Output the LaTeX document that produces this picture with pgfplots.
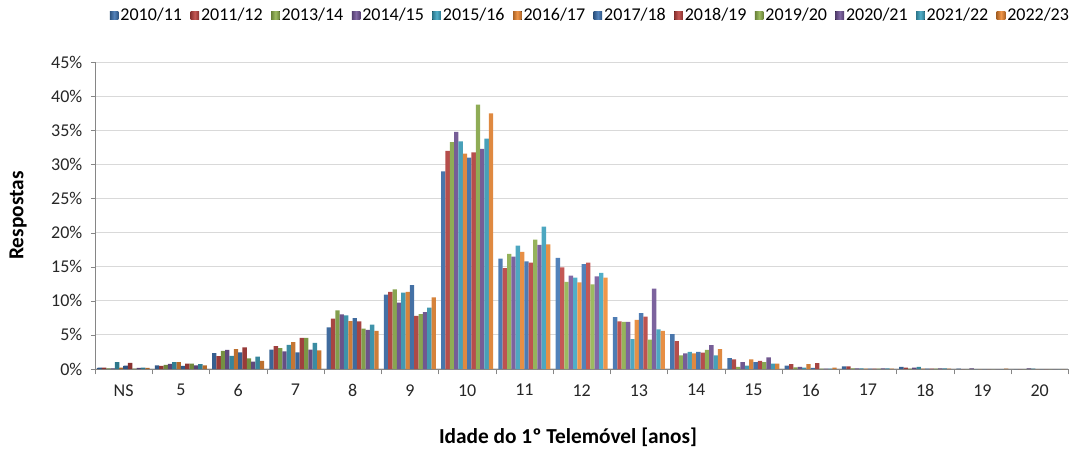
\documentclass[border=0pt]{standalone}
\usepackage{fontspec}
\setmainfont{Carlito}
\usepackage{pgfplots}
\usepackage{pgfplotstable}
\pgfplotsset{compat=1.18}

\definecolor{cblue}{HTML}{3F74B3}
\definecolor{cred}{HTML}{BE4542}
\definecolor{cgreen}{HTML}{91B34E}
\definecolor{cpurple}{HTML}{74579A}
\definecolor{ccyan}{HTML}{3EA5C2}
\definecolor{corange}{HTML}{EE8A35}
\definecolor{gridgray}{HTML}{D9D9D9}
\definecolor{axisgray}{HTML}{868686}

% percent of answers per age at first phone, one column per school year
\pgfplotstableread{
x  s1    s2    s3    s4    s5    s6    s7    s8    s9    s10   s11   s12
0  0.2   0.2   0.1   0.1   1.0   0.2   0.5   0.9   0.05  0.15  0.2   0.15
1  0.55  0.45  0.6   0.75  1.0   1.0   0.45  0.8   0.8   0.55  0.7   0.55
2  2.33  1.89  2.67  2.82  1.94  2.91  2.43  3.16  1.55  1.07  1.8   1.21
3  2.86  3.35  3.06  2.57  3.54  3.93  2.43  4.56  4.56  2.86  3.83  2.72
4  6.12  7.38  8.59  8.0   7.86  7.04  7.48  6.99  5.92  5.73  6.5   5.58
5  10.9  11.3  11.7  9.75  11.2  11.3  12.3  7.8   8.05  8.35  9.0   10.5
6  29.0  32.0  33.3  34.8  33.4  31.6  31.0  31.8  38.8  32.3  33.8  37.5
7  16.2  14.8  16.9  16.5  18.1  17.2  15.8  15.6  19.0  18.2  20.9  18.3
8  16.3  14.9  12.8  13.7  13.4  12.7  15.4  15.6  12.4  13.6  14.1  13.4
9  7.6   7.0   6.9   6.9   4.4   7.2   8.2   7.7   4.3   11.8  5.8   5.6
10 5.1   4.1   2.0   2.3   2.5   2.3   2.5   2.4   2.8   3.5   2.0   2.9
11 1.6   1.4   0.3   1.0   0.5   1.4   1.0   1.2   1.0   1.7   0.8   0.8
12 0.5   0.7   0.25  0.3   0.2   0.7   0.15  0.85  0.05  0.05  0.05  0.2
13 0.4   0.4   0.1   0.1   0.1   0.05  0.05  0.05  0.05  0.1   0.1   0.05
14 0.3   0.2   0.05  0.2   0.3   0.05  0.05  0.05  0.05  0.1   0.1   0.05
15 0.05  0     0     0.1   0     0     0     0     0     0     0     0.05
16 0     0     0     0.1   0.05  0     0     0     0     0     0     0
}\idade

\tikzset{
  bargrad/.style={draw=none, left color=#1!72!black, right color=#1!72!black, middle color=#1!90!white},
}

\begin{document}
\begin{tikzpicture}
\useasboundingbox (-71.25pt,-71.25pt) rectangle (734.25pt,276.75pt);
\begin{axis}[
  at={(0,0)}, anchor=south west,
  width=730pt, height=230pt, scale only axis,
  ybar=0pt, bar width=3.25pt,
  xmin=-0.5, xmax=16.5, ymin=0, ymax=45,
  axis x line*=bottom, axis y line*=left,
  axis line style={axisgray},
  xtick={0,...,16},
  xticklabels={NS,5,6,7,8,9,10,11,12,13,14,15,16,17,18,19,20},
  major x tick style={draw=none},
  minor xtick={-0.5,0.5,...,16.5},
  minor tick length=4pt,
  tick align=outside,
  ytick={0,5,...,45},
  major tick length=3pt,
  tick style={axisgray},
  yticklabel={\pgfmathprintnumber{\tick}\%},
  ymajorgrids, grid style={gridgray, line width=0.8pt},
  /pgf/number format/assume math mode=true,
  tick label style={font=\fontsize{13.5}{15}\selectfont, text=black!85},
  xticklabel style={yshift=-5pt},
  yticklabel style={xshift=-3pt},
  ylabel={Respostas},
  ylabel style={at={(axis description cs:-0.079,0.5)}, anchor=center, font=\fontsize{16}{18}\selectfont\bfseries},
  xlabel={Idade do 1º Telemóvel [anos]},
  xlabel style={at={(axis description cs:0.486,-0.222)}, anchor=center, font=\fontsize{16}{18}\selectfont\bfseries},
  legend columns=12,
  legend style={draw=none, at={(axis description cs:0.509,1.153)}, anchor=center,
    font=\fontsize{13.5}{15}\selectfont,
    /tikz/every even column/.append style={column sep=4.8pt},
    nodes={inner xsep=1.5pt}},
  legend image code/.code={\fill[#1] (0pt,-3.2pt) rectangle (6.4pt,3.2pt);},
]
\addplot[bargrad=cblue]   table[y=s1]  {\idade};
\addplot[bargrad=cred]    table[y=s2]  {\idade};
\addplot[bargrad=cgreen]  table[y=s3]  {\idade};
\addplot[bargrad=cpurple] table[y=s4]  {\idade};
\addplot[bargrad=ccyan]   table[y=s5]  {\idade};
\addplot[bargrad=corange] table[y=s6]  {\idade};
\addplot[bargrad=cblue]   table[y=s7]  {\idade};
\addplot[bargrad=cred]    table[y=s8]  {\idade};
\addplot[bargrad=cgreen]  table[y=s9]  {\idade};
\addplot[bargrad=cpurple] table[y=s10] {\idade};
\addplot[bargrad=ccyan]   table[y=s11] {\idade};
\addplot[bargrad=corange] table[y=s12] {\idade};
\legend{2010/11,2011/12,2013/14,2014/15,2015/16,2016/17,2017/18,2018/19,2019/20,2020/21,2021/22,2022/23}
\end{axis}
\end{tikzpicture}
\end{document}
